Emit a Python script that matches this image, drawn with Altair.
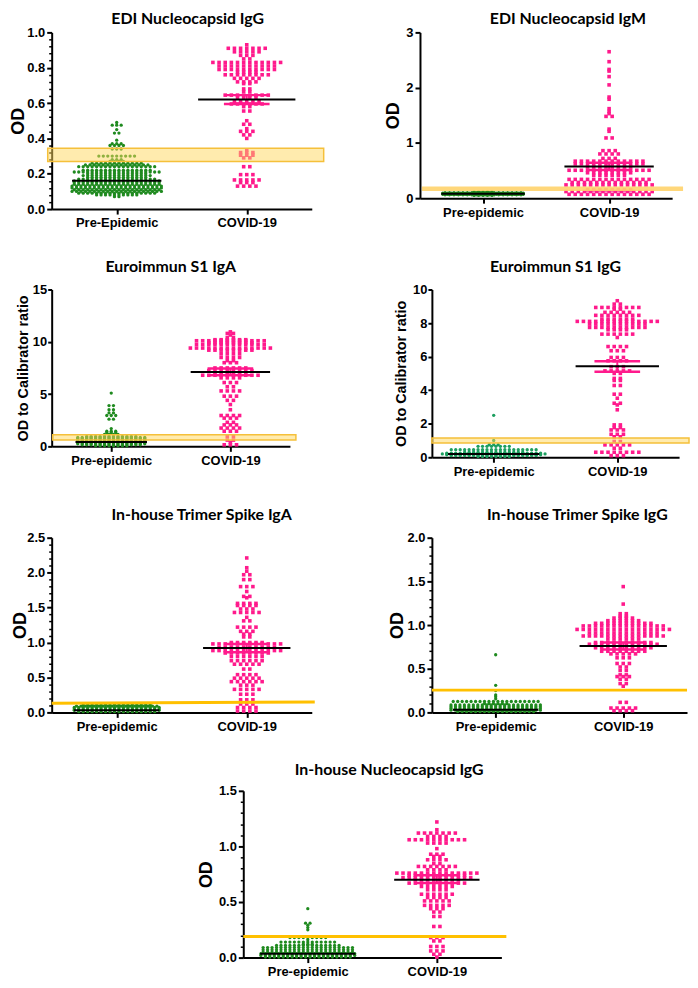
import altair as alt
import pandas as pd

# ---------------- data: (value, number of dots at that level) ----------------
EDI_IGG_PRE = [(0.49,1),(0.475,3),(0.45,1),(0.43,2),(0.39,1),(0.37,3),(0.36,4),(0.34,3),(0.30,9),(0.28,3),
               (0.27,4),(0.26,12),(0.25,15),(0.24,18),(0.22,16),(0.21,20),(0.20,14),(0.19,16),(0.18,14),
               (0.17,18),(0.16,20),(0.15,20),(0.14,20),(0.13,21),(0.12,21),(0.11,20),(0.10,21),(0.09,18),
               (0.08,10),(0.07,2)]
EDI_IGG_COV = [(0.93,1),(0.91,7),(0.89,5),(0.87,3),(0.85,2),(0.83,12),(0.81,10),(0.79,10),(0.775,4),(0.76,8),
               (0.74,5),(0.72,4),(0.71,2),(0.68,2),(0.665,2),(0.645,8),(0.63,4),(0.61,5),(0.595,6),(0.58,2),
               (0.555,2),(0.50,1),(0.48,2),(0.455,1),(0.44,3),(0.42,2),(0.40,1),(0.335,1),(0.32,3),(0.305,3),
               (0.29,2),(0.24,2),(0.195,3),(0.165,5),(0.15,3),(0.13,4)]

EDI_IGM_PRE = [(0.12,5),(0.10,18),(0.09,19),(0.08,19),(0.07,19),(0.06,18),(0.05,5)]
EDI_IGM_COV = [(2.65,1),(2.47,1),(2.33,1),(2.30,1),(2.2,1),(2.05,1),(1.83,1),(1.79,1),(1.62,1),(1.57,1),
               (1.53,1),(1.48,2),(1.25,1),(1.21,1),(1.09,2),(0.86,3),(0.80,4),(0.72,3),(0.67,12),(0.62,12),
               (0.565,8),(0.505,14),(0.46,8),(0.415,6),(0.34,14),(0.285,13),(0.24,15),(0.15,8),(0.12,15),
               (0.07,14)]

EU_IGA_PRE = [(5.1,1),(3.9,2),(3.5,2),(3.2,2),(2.95,3),(2.6,2),(1.7,1),(1.45,3),(1.3,3),(1.15,4),(0.95,12),
              (0.85,16),(0.75,16),(0.65,16),(0.55,16),(0.45,16),(0.35,16),(0.25,16),(0.15,14),(0.05,8)]
EU_IGA_COV = [(10.95,1),(10.8,2),(10.65,1),(10.4,2),(10.2,6),(10.1,12),(9.9,8),(9.75,12),(9.4,14),(9.2,8),
              (8.85,4),(8.5,4),(8.2,2),(8.0,3),(7.5,6),(7.25,8),(7.0,6),(6.8,10),(6.55,4),(6.1,3),(5.7,2),
              (5.3,4),(4.8,3),(4.4,2),(4.0,1),(3.5,1),(2.95,4),(2.7,3),(2.3,2),(2.05,3),(1.75,4),(1.45,3),
              (0.95,2),(0.6,2),(0.4,1),(0.15,3)]

EU_IGG_PRE = [(2.5,1),(1.0,1),(0.75,3),(0.65,8),(0.45,20),(0.3,14),(0.25,22),(0.2,24),(0.15,22),(0.1,20),
              (0.05,8)]
EU_IGG_COV = [(9.33,1),(9.13,2),(8.93,8),(8.83,2),(8.64,5),(8.46,8),(8.24,6),(8.1,14),(7.94,10),(7.74,10),
              (7.6,4),(7.34,6),(7.14,1),(6.6,4),(6.35,3),(5.95,3),(5.75,4),(5.4,3),(5.15,5),(5.0,2),(4.7,2),
              (4.58,2),(4.28,2),(3.76,2),(3.52,1),(3.22,2),(3.12,1),(2.83,1),(1.93,2),(1.77,2),(1.63,3),
              (1.37,3),(1.22,2),(0.94,2),(0.74,5),(0.54,2),(0.3,8),(0.1,3)]

TS_IGA_PRE = [(0.11,16),(0.09,19),(0.07,20),(0.05,20),(0.03,20),(0.01,18)]
TS_IGA_COV = [(2.21,1),(2.07,1),(2.02,1),(1.97,2),(1.9,2),(1.8,3),(1.73,1),(1.66,2),(1.64,1),(1.56,4),
              (1.53,4),(1.48,3),(1.43,5),(1.36,1),(1.31,2),(1.22,4),(1.16,3),(1.12,2),(1.08,2),(1.0,6),
              (0.98,12),(0.93,10),(0.885,12),(0.85,8),(0.8,6),(0.74,6),(0.69,5),(0.62,2),(0.54,4),(0.49,5),
              (0.44,6),(0.39,3),(0.33,5),(0.26,3),(0.18,3),(0.12,3),(0.07,4),(0.02,4)]

TS_IGG_PRE = [(0.66,1),(0.31,1),(0.25,1),(0.2,1),(0.18,1),(0.155,1),(0.125,20),(0.1,6),(0.085,21),
              (0.065,21),(0.045,21),(0.025,21),(0.01,18)]
TS_IGG_COV = [(1.44,1),(1.24,1),(1.13,2),(1.1,2),(1.08,4),(1.05,6),(1.02,10),(0.99,14),(0.95,16),(0.91,12),
              (0.875,14),(0.84,6),(0.8,10),(0.78,12),(0.74,10),(0.70,8),(0.67,5),(0.625,3),(0.56,3),
              (0.52,2),(0.48,2),(0.43,2),(0.41,3),(0.38,2),(0.33,2),(0.30,1),(0.115,2),(0.05,5),(0.02,4)]

NC_IGG_PRE = [(0.44,1),(0.31,2),(0.29,1),(0.27,1),(0.25,1),(0.18,9),(0.16,1),(0.14,13),(0.12,3),(0.11,15),
              (0.09,21),(0.07,21),(0.05,21),(0.035,22),(0.02,22),(0.005,20)]
NC_IGG_COV = [(1.22,1),(1.15,1),(1.12,7),(1.09,4),(1.06,10),(1.03,4),(0.98,1),(0.93,3),(0.91,2),(0.88,4),
              (0.845,2),(0.82,7),(0.79,4),(0.76,14),(0.74,10),(0.72,12),(0.70,8),(0.67,10),(0.64,6),
              (0.61,4),(0.57,6),(0.54,4),(0.51,5),(0.47,5),(0.44,3),(0.41,2),(0.37,2),(0.28,2),(0.18,3),
              (0.15,2),(0.10,3),(0.06,3),(0.03,2),(0.005,1)]

TITLES = ["EDI Nucleocapsid IgG", "EDI Nucleocapsid IgM", "Euroimmun S1 IgA", "Euroimmun S1 IgG",
          "In-house Trimer Spike IgA", "In-house Trimer Spike IgG", "In-house Nucleocapsid IgG"]
Y_TITLES = ["OD", "OD", "OD to Calibrator ratio", "OD to Calibrator ratio", "OD", "OD", "OD"]
PRE_LABELS = ["Pre-Epidemic", "Pre-epidemic", "Pre-epidemic", "Pre-epidemic", "Pre-epidemic",
              "Pre-epidemic", "Pre-epidemic"]
COV_LABEL = "COVID-19"
Y_MAX = [1.0, 3, 15, 10, 2.5, 2.0, 1.5]
Y_TICKS = [[0, 0.2, 0.4, 0.6, 0.8, 1.0], [0, 1, 2, 3], [0, 5, 10, 15], [0, 2, 4, 6, 8, 10],
           [0, 0.5, 1.0, 1.5, 2.0, 2.5], [0, 0.5, 1.0, 1.5, 2.0], [0, 0.5, 1.0, 1.5]]
Y_MINOR = [[round(0.04 * i, 2) for i in range(26) if i % 5],
           [], [], [],
           [round(0.1 * i, 1) for i in range(26) if i % 5],
           [round(0.1 * i, 1) for i in range(21) if i % 5],
           [round(0.1 * i, 1) for i in range(16) if i % 5]]
Y_FMT = [".1f", "d", "d", "d", ".1f", ".1f", ".1f"]
PRE_MEAN = [0.16, 0.08, 0.42, 0.2, 0.03, 0.03, 0.035]
COV_MEAN = [0.62, 0.575, 7.1, 5.42, 0.92, 0.76, 0.70]
COV_SEM = [(0.595, 0.645), (0.51, 0.64), (6.8, 7.45), (5.1, 5.73), (0.86, 0.98), (0.72, 0.80), (0.67, 0.74)]
# cut-off: band (lo, hi) or line (left, right)
CUTOFF = [(0.27, 0.345), (0.13, 0.21), (0.6, 1.1), (0.85, 1.15), (0.13, 0.15), (0.255, 0.255), (0.19, 0.19)]
CUT_KIND = ["band", "solid", "band", "band", "line", "line", "line"]
GROUPS = [(EDI_IGG_PRE, EDI_IGG_COV), (EDI_IGM_PRE, EDI_IGM_COV), (EU_IGA_PRE, EU_IGA_COV),
          (EU_IGG_PRE, EU_IGG_COV), (TS_IGA_PRE, TS_IGA_COV), (TS_IGG_PRE, TS_IGG_COV),
          (NC_IGG_PRE, NC_IGG_COV)]

# ---------------- layout / style ----------------
W = [262, 254, 240, 249, 262, 257, 260]
H = [178, 167, 158, 169, 176, 176, 168]
TITLE_X = [-24, -18, -21, -24, -22, -26, -28]
Y_TITLE_SIZE = [18, 18, 14.5, 14.5, 18, 18, 18]
TITLE_OFF = [-17, -17, -7, -7, -7, -7, -9]
TITLE_DX = [6, 22, 0, 0, 20, 18, 17]
PRE_HALF = [45, 42, 36, 46, 43, 43, 48]
COV_HALF = [49, 45, 40, 42, 44, 44, 43]
CUT_X = [(-4, 12), (2, 11), (1, 6), (0, 10), (0, 3), (0, 0), (0, 5)]
GREEN = ["#1f8a1f", "#1f8a1f", "#1f8a1f", "#1b9e5e", "#1f8a1f", "#1f8a1f", "#1f8a1f"]
PINK = "#ff1a8c"
PITCH_PRE, PITCH_COV = 4.5, 6.2


def swarm(rows, center, pitch, k):
    xs, ys = [], []
    for v, n in rows:
        for j in range(n):
            xs.append(center + (j - (n - 1) / 2.0) * pitch * k)
            ys.append(v)
    return pd.DataFrame({"x": xs, "y": ys})


def panel(i):
    w, h = W[i], H[i]
    k = 2.0 / w
    pre_df = swarm(GROUPS[i][0], 0.5, PITCH_PRE, k)
    cov_df = swarm(GROUPS[i][1], 1.5, PITCH_COV, k)
    xs = alt.Scale(domain=[0, 2], nice=False, zero=False)
    ys = alt.Scale(domain=[0, Y_MAX[i]], nice=False, zero=True)
    xaxis = alt.Axis(values=[0.5, 1.5], title=None, labelFlush=False, labelOverlap=False,
                     labelExpr="datum.value < 1 ? '%s' : '%s'" % (PRE_LABELS[i], COV_LABEL),
                     tickSize=5, labelPadding=3)
    small = i in (2, 3)
    yaxis = alt.Axis(values=Y_TICKS[i], format=Y_FMT[i], title=Y_TITLES[i], titleX=TITLE_X[i],
                     titleY=h / 2, titleFontSize=Y_TITLE_SIZE[i], labelFlush=False, labelOverlap=False,
                     tickSize=4 if small else 5, labelPadding=1 if small else 2)
    X = alt.X("x:Q", scale=xs, axis=xaxis)
    Xn = alt.X("x:Q", scale=xs, axis=None)
    Yn = alt.Y("y:Q", scale=ys, axis=None)

    green = alt.Chart(pre_df).mark_circle(size=11, color=GREEN[i], opacity=1).encode(
        x=X, y=alt.Y("y:Q", scale=ys, axis=yaxis))
    pink = alt.Chart(cov_df).mark_square(size=13, color=PINK, opacity=1).encode(x=Xn, y=Yn)

    lo, hi = COV_SEM[i]
    sem_h = pd.DataFrame({"x1": [1.5 - 23 * k] * 2, "x2": [1.5 + 23 * k] * 2, "y": [lo, hi]})
    sem_v = pd.DataFrame({"x": [1.5], "lo": [lo], "hi": [hi]})
    sem1 = alt.Chart(sem_h).mark_rule(color=PINK, strokeWidth=2.5).encode(
        x=alt.X("x1:Q", scale=xs, axis=None), x2="x2:Q", y=Yn)
    sem2 = alt.Chart(sem_v).mark_rule(color=PINK, strokeWidth=2).encode(
        x=Xn, y=alt.Y("lo:Q", scale=ys, axis=None), y2="hi:Q")

    mean_df = pd.DataFrame({"x1": [0.5 - PRE_HALF[i] * k, 1.5 - COV_HALF[i] * k],
                            "x2": [0.5 + PRE_HALF[i] * k, 1.5 + COV_HALF[i] * k],
                            "y": [PRE_MEAN[i], COV_MEAN[i]]})
    means = alt.Chart(mean_df).mark_rule(color="black", strokeWidth=2).encode(
        x=alt.X("x1:Q", scale=xs, axis=None), x2="x2:Q", y=Yn)

    if Y_MINOR[i]:
        cut_axis = alt.Axis(orient="left", values=Y_MINOR[i], labels=False, domain=False, ticks=True,
                            tickSize=3, tickWidth=1.5, title=None, grid=False)
    else:
        cut_axis = None
    a, b = CUTOFF[i]
    cut_df = pd.DataFrame({"a": [a], "b": [b]})
    x0, ext = CUT_X[i]
    if CUT_KIND[i] == "band":
        cut = alt.Chart(cut_df).mark_rect(fill="#ffd75e", fillOpacity=0.5, stroke="#f5c03a",
                                          strokeWidth=1.5)
    elif CUT_KIND[i] == "solid":
        cut = alt.Chart(cut_df).mark_rect(fill="#ffd36b", fillOpacity=0.9)
    else:
        cut = alt.Chart(cut_df).mark_rule(color="#ffc000", strokeWidth=3)
    cut = cut.encode(x=alt.value(x0), x2=alt.value(w + ext),
                     y=alt.Y("a:Q", scale=ys, axis=cut_axis), y2="b:Q")

    layer = alt.layer(green, pink, sem1, sem2, means, cut).properties(
        width=w, height=h,
        title=alt.TitleParams(TITLES[i], font="Lato", fontSize=16, fontWeight="bold", color="black",
                              anchor="middle", frame="group", offset=TITLE_OFF[i], dx=TITLE_DX[i],
                              baseline="bottom"))
    return layer.resolve_axis(x="independent", y="independent")


panels = [panel(i) for i in range(7)]

spacer = alt.Chart(pd.DataFrame({"v": [0]})).mark_point(opacity=0).encode(
    x=alt.X("v:Q", axis=None), y=alt.Y("v:Q", axis=None)).properties(width=10, height=10)

row1 = alt.hconcat(panels[0], panels[1], spacing=109, bounds="flush")
row2 = alt.hconcat(panels[2], panels[3], spacing=143, bounds="flush")
row3 = alt.hconcat(panels[4], panels[5], spacing=121, bounds="flush")
row4 = alt.hconcat(spacer, panels[6], spacing=183, bounds="flush")

chart = alt.vconcat(row1, row2, row3, row4, spacing=29).properties(
    padding={"left": 2, "top": 0, "right": 0, "bottom": 0}, background="white"
).configure_view(stroke=None).configure_axis(
    grid=False, domainColor="black", domainWidth=2, tickColor="black", tickWidth=2,
    labelFont="Liberation Sans", labelFontWeight="bold", labelFontSize=13, labelColor="black",
    titleFont="Liberation Sans", titleFontWeight="bold", titleColor="black"
)

chart.save("out.html", embed_options={"renderer": "svg", "actions": False})
